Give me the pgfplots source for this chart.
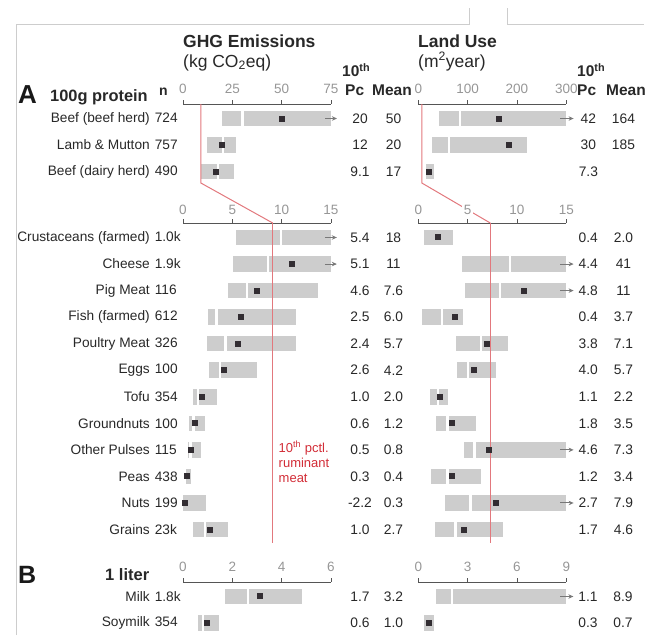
\documentclass[border=0pt]{standalone}
\usepackage{pgfplots}
\pgfplotsset{compat=1.18}
\usepackage{pgfplotstable}
\usepackage{fontspec}
\setmainfont{Liberation Sans}
\usetikzlibrary{arrows.meta}

\definecolor{barcol}{RGB}{205,205,205}
\definecolor{meancol}{RGB}{50,45,50}
\definecolor{axcol}{RGB}{85,85,85}
\definecolor{tickcol}{RGB}{150,150,150}
\definecolor{redline}{RGB}{226,120,125}
\definecolor{redtext}{RGB}{210,45,55}
\definecolor{arrcol}{RGB}{120,120,120}
\definecolor{framecol}{RGB}{205,205,205}
\definecolor{txtcol}{RGB}{40,40,40}

\newcommand{\fs}[1]{\fontsize{#1}{#1}\selectfont}
\newcommand{\lab}[2]{#1\hspace{5pt}\makebox[24pt][l]{#2}}

% GHG emissions, 100g protein, ruminant meat (kg CO2eq)
\pgfplotstableread{
y lo med hi sq pc mean
0 20 30.2 75 50 20 50
-1 12 20.4 26.9 19.7 12 20
-2 9.1 17.8 25.8 16.8 9.1 17
}\ghgA
% GHG emissions, 100g protein, other foods
\pgfplotstableread{
y lo med hi sq pc mean
0 5.4 9.9 15 nan 5.4 18
-1 5.1 8.6 15 11.0 5.1 11
-2 4.6 6.5 13.65 7.5 4.6 7.6
-3 2.5 3.4 11.5 5.9 2.5 6.0
-4 2.4 4.3 11.5 5.6 2.4 5.7
-5 2.6 3.75 7.47 4.2 2.6 4.2
-6 1.0 1.55 3.48 1.95 1.0 2.0
-7 0.6 1.05 2.2 1.25 0.6 1.2
-8 0.5 0.75 1.79 0.84 0.5 0.8
-9 0.3 nan 0.78 0.42 0.3 0.4
-10 0 nan 2.36 0.25 -2.2 0.3
-11 1.0 2.25 4.6 2.74 1.0 2.7
}\ghgB
% GHG emissions, 1 liter
\pgfplotstableread{
y lo med hi sq pc mean
0 1.7 2.63 4.82 3.12 1.7 3.2
-1 0.6 0.82 1.47 0.97 0.6 1.0
}\ghgC
% Land use, ruminant meat
\pgfplotstableread{
y lo med hi sq pc mean
0 41 84 300 163 42 164
-1 28.5 62.5 221 184 30 185
-2 15 nan 32.6 21.7 7.3 ~
}\luA
% Land use, other foods
\pgfplotstableread{
y lo med hi sq pc mean
0 0.6 nan 3.55 1.97 0.4 2.0
-1 4.45 9.3 15 nan 4.4 41
-2 4.75 8.27 15 10.67 4.8 11
-3 0.4 2.4 4.54 3.7 0.4 3.7
-4 3.85 6.37 9.14 7.0 3.8 7.1
-5 3.96 5.07 7.86 5.6 4.0 5.7
-6 1.15 2.0 3.05 2.2 1.1 2.2
-7 1.8 2.95 5.86 3.42 1.8 3.5
-8 4.6 5.71 15 7.21 4.6 7.3
-9 1.25 2.97 6.37 3.42 1.2 3.4
-10 2.75 5.3 15 7.86 2.7 7.9
-11 1.66 3.78 8.63 4.61 1.7 4.6
}\luB
% Land use, 1 liter
\pgfplotstableread{
y lo med hi sq pc mean
0 1.1 2.07 9 nan 1.1 8.9
-1 0.37 nan 0.94 0.65 0.3 0.7
}\luC

\pgfplotsset{
  panel/.style={
    scale only axis, width=148pt, clip=false,
    axis x line*=top, axis y line*=left,
    y axis line style={draw=none}, ytick style={draw=none},
    x axis line style={-, draw=axcol, line width=0.9pt},
    xtick style={draw=axcol, line width=0.9pt},
    tick align=outside, major tick length=4pt,
    xticklabel style={font=\fs{13.5}, text=tickcol},
    xticklabel shift=2.5pt,
    yticklabel style={font=\fs{13.7}, anchor=east, inner sep=0pt, text=txtcol},
    /pgf/number format/assume math mode=true,
    enlargelimits=false, ymax=0.546,
  },
  bars/.style={draw=none, mark=none,
    error bars/x dir=both, error bars/x explicit, error bars/error mark=none,
    error bars/error bar style={draw=barcol, line width=15.5pt}},
  medn/.style={only marks, mark=|, mark size=7.75pt, mark options={draw=white, line width=2.3pt}},
  meanm/.style={only marks, mark=square*, mark size=2.5pt, mark options={fill=meancol, draw=meancol, line width=0pt}},
  txt/.style={draw=none, mark=none, nodes near coords, point meta=explicit symbolic,
    every node near coord/.append style={font=\fs{13.8}, anchor=center, inner sep=0pt, text=txtcol}},
  arr/.style={arrcol, line width=1pt, -{Stealth[length=5pt,width=4.5pt]}},
  red/.style={redline, line width=1pt, mark=none},
}

\begin{document}
\begin{tikzpicture}
\path[use as bounding box] (0pt,0pt) rectangle (659pt,-635pt);
\draw[framecol, line width=1pt] (16pt,-635pt) -- (16pt,-24pt) -- (469pt,-24pt) -- (469pt,-8pt);
\draw[framecol, line width=1pt] (507pt,-8pt) -- (507pt,-24pt) -- (644pt,-24pt);

% headers
\node[anchor=base west, inner sep=0pt, font=\fs{17.5}\bfseries, text=txtcol] at (183pt,-47pt) {GHG Emissions};
\node[anchor=base west, inner sep=0pt, font=\fs{17.5}, text=txtcol] at (183pt,-67pt) {(kg CO\textsubscript{2}eq)};
\node[anchor=base west, inner sep=0pt, font=\fs{17.5}\bfseries, text=txtcol] at (418pt,-47pt) {Land Use};
\node[anchor=base west, inner sep=0pt, font=\fs{17.5}, text=txtcol] at (418pt,-67pt) {(m\textsuperscript{2}year)};
\node[anchor=base west, inner sep=0pt, font=\fs{15.5}\bfseries, text=txtcol] at (342pt,-76.5pt) {10\textsuperscript{th}};
\node[anchor=base west, inner sep=0pt, font=\fs{15.5}\bfseries, text=txtcol] at (345pt,-95pt) {Pc};
\node[anchor=base west, inner sep=0pt, font=\fs{15.5}\bfseries, text=txtcol] at (372pt,-95pt) {Mean};
\node[anchor=base west, inner sep=0pt, font=\fs{15.5}\bfseries, text=txtcol] at (577pt,-76.5pt) {10\textsuperscript{th}};
\node[anchor=base west, inner sep=0pt, font=\fs{15.5}\bfseries, text=txtcol] at (577pt,-95pt) {Pc};
\node[anchor=base west, inner sep=0pt, font=\fs{15.5}\bfseries, text=txtcol] at (606pt,-95pt) {Mean};
\node[anchor=base west, inner sep=0pt, font=\fs{26}\bfseries, text=black!90] at (18pt,-103pt) {A};
\node[anchor=base west, inner sep=0pt, font=\fs{16.4}\bfseries, text=txtcol] at (50pt,-101.5pt) {100g protein};
\node[anchor=base west, inner sep=0pt, font=\fs{14}\bfseries, text=txtcol] at (159pt,-95pt) {n};
\node[anchor=base west, inner sep=0pt, font=\fs{25}\bfseries, text=black!90] at (18pt,-583pt) {B};
\node[anchor=base west, inner sep=0pt, font=\fs{16.5}\bfseries, text=txtcol] at (105pt,-580pt) {1 liter};

% ---------------- GHG upper
\begin{axis}[panel, at={(183pt,-104pt)}, anchor=north west,
  height=80.9pt, ymin=-2.5, xmin=0, xmax=75, xtick={0,25,50,75},
  ytick={0,-1,-2},
  yticklabels={\lab{Beef (beef herd)}{724},\lab{Lamb \& Mutton}{757},\lab{Beef (dairy herd)}{490}}]
\addplot[bars] table[x expr={(\thisrow{lo}+\thisrow{hi})/2}, y=y, x error expr={(\thisrow{hi}-\thisrow{lo})/2}] {\ghgA};
\addplot[medn] table[x=med, y=y] {\ghgA};
\addplot[meanm] table[x=sq, y=y] {\ghgA};
\addplot[arr, quiver={u=6, v=0}] coordinates {(72,0)};
\addplot[txt] table[x expr=89.7, y=y, meta=pc] {\ghgA};
\addplot[txt] table[x expr=106.7, y=y, meta=mean] {\ghgA};
\addplot[red] coordinates {(9.1,0.546) (9.1,-2.43) (45.5,-3.936)};
\end{axis}

% ---------------- Land upper
\begin{axis}[panel, at={(418.3pt,-104pt)}, anchor=north west,
  height=80.9pt, ymin=-2.5, xmin=0, xmax=300, xtick={0,100,200,300}, ytick=\empty]
\addplot[bars] table[x expr={(\thisrow{lo}+\thisrow{hi})/2}, y=y, x error expr={(\thisrow{hi}-\thisrow{lo})/2}] {\luA};
\addplot[medn] table[x=med, y=y] {\luA};
\addplot[meanm] table[x=sq, y=y] {\luA};
\addplot[arr, quiver={u=27, v=0}] coordinates {(287.8,0)};
\addplot[txt] table[x expr=344.7, y=y, meta=pc] {\luA};
\addplot[txt] table[x expr=415.8, y=y, meta=mean] {\luA};
\addplot[red] coordinates {(7.3,0.546) (7.3,-2.43) (146,-3.936)};
\end{axis}

% ---------------- GHG lower
\begin{axis}[panel, at={(183pt,-223pt)}, anchor=north west,
  height=319.8pt, ymin=-11.5, xmin=0, xmax=15, xtick={0,5,10,15},
  xticklabel style={fill=white, inner sep=1.5pt},
  ytick={0,-1,...,-11},
  yticklabels={\lab{Crustaceans (farmed)}{1.0k},\lab{Cheese}{1.9k},\lab{Pig Meat}{116},\lab{Fish (farmed)}{612},\lab{Poultry Meat}{326},\lab{Eggs}{100},\lab{Tofu}{354},\lab{Groundnuts}{100},\lab{Other Pulses}{115},\lab{Peas}{438},\lab{Nuts}{199},\lab{Grains}{23k}}]
\addplot[bars] table[x expr={(\thisrow{lo}+\thisrow{hi})/2}, y=y, x error expr={(\thisrow{hi}-\thisrow{lo})/2}] {\ghgB};
\addplot[medn] table[x=med, y=y] {\ghgB};
\addplot[meanm] table[x=sq, y=y] {\ghgB};
\addplot[arr, quiver={u=1.2, v=0}] coordinates {(14.39,0) (14.39,-1)};
\addplot[txt] table[x expr=17.94, y=y, meta=pc] {\ghgB};
\addplot[txt] table[x expr=21.33, y=y, meta=mean] {\ghgB};
\addplot[red] coordinates {(9.1,0.546) (9.1,-11.5)};
\end{axis}

% ---------------- Land lower
\begin{axis}[panel, at={(418.3pt,-223pt)}, anchor=north west,
  height=319.8pt, ymin=-11.5, xmin=0, xmax=15, xtick={0,5,10,15},
  xticklabel style={fill=white, inner sep=1.5pt}, ytick=\empty]
\addplot[bars] table[x expr={(\thisrow{lo}+\thisrow{hi})/2}, y=y, x error expr={(\thisrow{hi}-\thisrow{lo})/2}] {\luB};
\addplot[medn] table[x=med, y=y] {\luB};
\addplot[meanm] table[x=sq, y=y] {\luB};
\addplot[arr, quiver={u=1.35, v=0}] coordinates {(14.39,-1) (14.39,-2) (14.39,-8) (14.39,-10)};
\addplot[txt] table[x expr=17.23, y=y, meta=pc] {\luB};
\addplot[txt] table[x expr=20.79, y=y, meta=mean] {\luB};
\addplot[red] coordinates {(7.3,0.546) (7.3,-11.5)};
\end{axis}

% ---------------- GHG 1 liter
\begin{axis}[panel, at={(183pt,-582pt)}, anchor=north west,
  height=54.3pt, ymin=-1.5, xmin=0, xmax=6, xtick={0,2,4,6},
  ytick={0,-1}, yticklabels={\lab{Milk}{1.8k},\lab{Soymilk}{354}}]
\addplot[bars] table[x expr={(\thisrow{lo}+\thisrow{hi})/2}, y=y, x error expr={(\thisrow{hi}-\thisrow{lo})/2}] {\ghgC};
\addplot[medn] table[x=med, y=y] {\ghgC};
\addplot[meanm] table[x=sq, y=y] {\ghgC};
\addplot[txt] table[x expr=7.175, y=y, meta=pc] {\ghgC};
\addplot[txt] table[x expr=8.533, y=y, meta=mean] {\ghgC};
\end{axis}

% ---------------- Land 1 liter
\begin{axis}[panel, at={(418.3pt,-582pt)}, anchor=north west,
  height=54.3pt, ymin=-1.5, xmin=0, xmax=9, xtick={0,3,6,9}, ytick=\empty]
\addplot[bars] table[x expr={(\thisrow{lo}+\thisrow{hi})/2}, y=y, x error expr={(\thisrow{hi}-\thisrow{lo})/2}] {\luC};
\addplot[medn] table[x=med, y=y] {\luC};
\addplot[meanm] table[x=sq, y=y] {\luC};
\addplot[arr, quiver={u=0.81, v=0}] coordinates {(8.62,0)};
\addplot[txt] table[x expr=10.32, y=y, meta=pc] {\luC};
\addplot[txt] table[x expr=12.45, y=y, meta=mean] {\luC};
\end{axis}

\node[anchor=north west, align=left, inner sep=0pt, text=redtext, font=\fontsize{13}{15}\selectfont] at (278.5pt,-441pt) {10\textsuperscript{th} pctl.\\ruminant\\meat};
\end{tikzpicture}
\end{document}
